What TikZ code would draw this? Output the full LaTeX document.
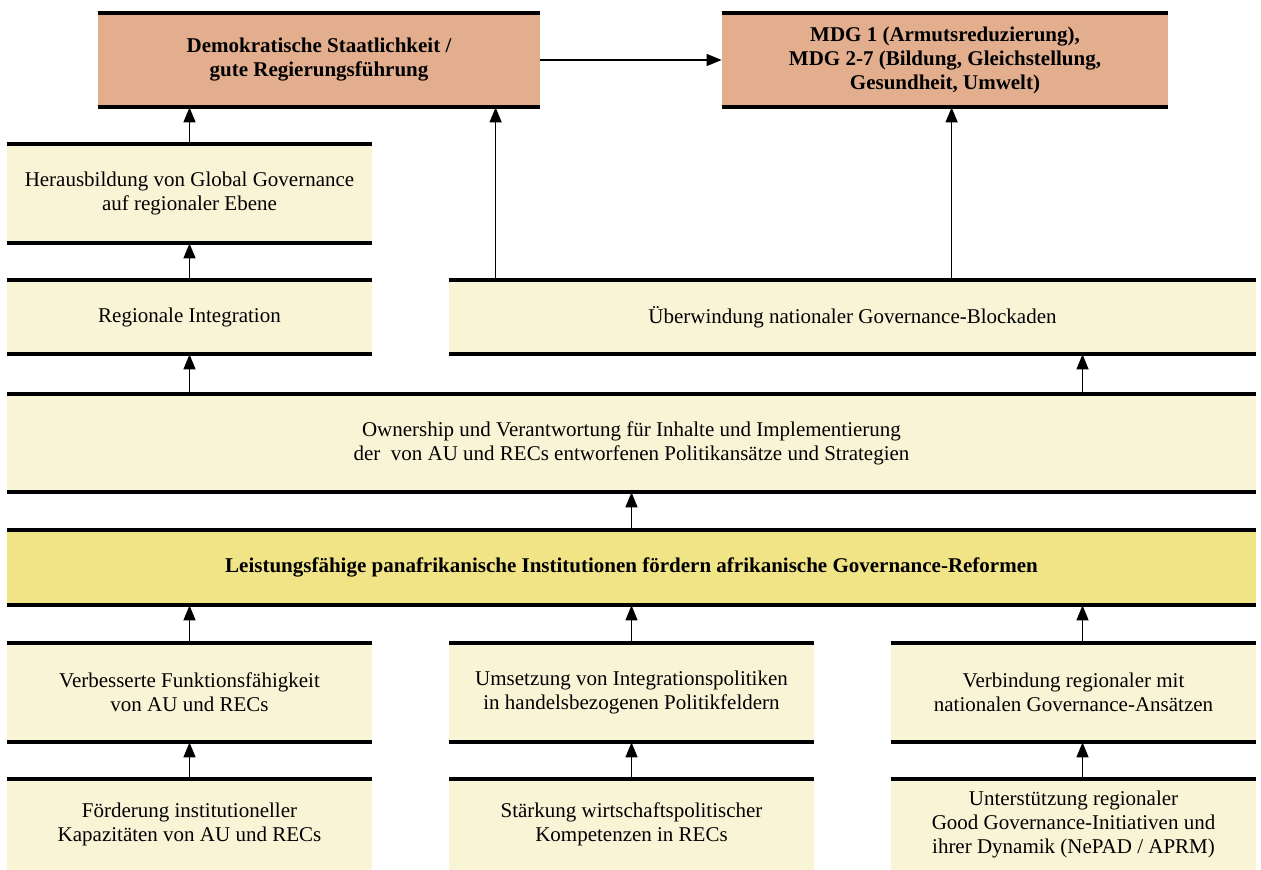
\documentclass[tikz,border=0pt]{standalone}
\usepackage{fontspec}
\setmainfont{Liberation Serif}
\usetikzlibrary{arrows.meta}

\definecolor{goalfill}{HTML}{E3AE8E}
\definecolor{stepfill}{HTML}{FAF4D7}
\definecolor{corefill}{HTML}{F0E486}

\begin{document}
\begin{tikzpicture}[x=0.5pt,y=-0.5pt]

      \useasboundingbox (0,0) rectangle (1261,870);

      \begin{scope}[every node/.style={fill=stepfill,inner sep=0pt,align=center,
          font=\fontsize{10.5}{12}\selectfont,minimum width=182.5pt}]
        \node[fill=goalfill,minimum width=221pt,minimum height=47pt,font=\fontsize{10.5}{12}\selectfont\bfseries] (demo) at (319,60)
          {Demokratische Staatlichkeit /\\gute Regierungsführung};
        \node[fill=goalfill,minimum width=223pt,minimum height=47pt,font=\fontsize{10.5}{12}\selectfont\bfseries] (mdg) at (945,60)
          {MDG 1 (Armutsreduzierung),\\MDG 2-7 (Bildung, Gleichstellung,\\Gesundheit, Umwelt)};
        \node[minimum height=49.5pt] (global) at (189.5,193.5)
          {Herausbildung von Global Governance\\auf regionaler Ebene};
        \node[minimum height=37pt] (regint) at (189.5,317) {Regionale Integration};
        \node[minimum width=403.5pt,minimum height=37pt] (ueber) at (852.5,317)
          {Überwindung nationaler Governance-Blockaden};
        \node[minimum width=624.5pt,minimum height=49pt] (owner) at (631.5,443)
          {Ownership und Verantwortung für Inhalte und Implementierung\\der\ \ von AU und RECs entworfenen Politikansätze und Strategien};
        \node[fill=corefill,minimum width=624.5pt,minimum height=37.5pt,font=\fontsize{10.5}{12}\selectfont\bfseries] (leist) at (631.5,567.5)
          {Leistungsfähige panafrikanische Institutionen fördern afrikanische Governance-Reformen};
        \node[minimum height=49.5pt] (funkt) at (189.5,692.5)
          {Verbesserte Funktionsfähigkeit\\von AU und RECs};
        \node[minimum height=49.5pt] (umsetz) at (631.5,692.5)
          {Umsetzung von Integrationspolitiken\\in handelsbezogenen Politikfeldern};
        \node[minimum height=49.5pt] (verbind) at (1073.5,692.5)
          {Verbindung regionaler mit\\nationalen Governance-Ansätzen};
        \node[minimum height=45.5pt] (foerd) at (189.5,824.5)
          {Förderung institutioneller\\Kapazitäten von AU und RECs};
        \node[minimum height=45.5pt] (staerk) at (631.5,824.5)
          {Stärkung wirtschaftspolitischer\\Kompetenzen in RECs};
        \node[minimum height=45.5pt] (unterst) at (1073.5,824.5)
          {Unterstützung regionaler\\Good Governance-Initiativen und\\ihrer Dynamik (NePAD / APRM)};
      \end{scope}

      % thick rules on top and bottom of each box
      \foreach \n in {demo,mdg,global,regint,ueber,owner,leist,funkt,umsetz,verbind}
        \draw[line width=2pt] (\n.north west) -- (\n.north east) (\n.south west) -- (\n.south east);
      \foreach \n in {foerd,staerk,unterst}
        \draw[line width=2pt] (\n.north west) -- (\n.north east);

      \begin{scope}[every edge/.style={draw,line width=0.75pt,-{Triangle[length=7.5pt,width=6pt]}}]
        \path (demo.east) edge (mdg.west);
        \path (global.north) edge (demo.south -| global.north);
        \path (regint.north) edge (global.south);
        \path ([xshift=23.5pt]ueber.north west) edge ([xshift=23.5pt]ueber.north west |- demo.south);
        \path ([xshift=251.5pt]ueber.north west) edge ([xshift=251.5pt]ueber.north west |- mdg.south);
        \path (owner.north -| regint.south) edge (regint.south);
        \path ([xshift=4.5pt]owner.north -| verbind.north) edge ([xshift=4.5pt]ueber.south -| verbind.north);
        \path (leist.north) edge (owner.south);
        \path (funkt.north) edge (leist.south -| funkt.north);
        \path (umsetz.north) edge (leist.south -| umsetz.north);
        \path ([xshift=4.5pt]verbind.north) edge ([xshift=4.5pt]leist.south -| verbind.north);
        \path (foerd.north) edge (funkt.south);
        \path (staerk.north) edge (umsetz.south);
        \path ([xshift=4.5pt]unterst.north) edge ([xshift=4.5pt]verbind.south);
      \end{scope}

    \end{tikzpicture}
\end{document}
